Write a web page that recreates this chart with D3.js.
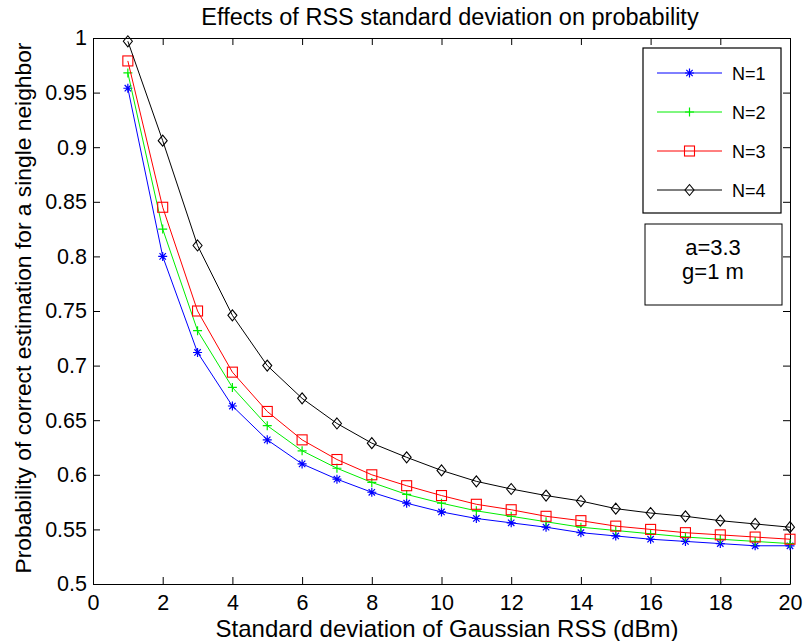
<!DOCTYPE html>
<html>
<head>
<meta charset="utf-8">
<script src="https://cdn.jsdelivr.net/npm/d3@7"></script>
<style>
  body { margin: 0; background: #fff; }
  text { font-family: "Liberation Sans", Arial, sans-serif; fill: #000; }
  .axis path, .axis line { stroke: #000; stroke-width: 1; }
</style>
</head>
<body>
<div id="chart"></div>
<script>
// data
const sigma = [1, 2, 3, 4, 5, 6, 7, 8, 9, 10, 11, 12, 13, 14, 15, 16, 17, 18, 19, 20];
const probN1 = [0.954, 0.800, 0.712, 0.663, 0.632, 0.610, 0.596, 0.584, 0.574, 0.566,
  0.560, 0.556, 0.552, 0.547, 0.544, 0.541, 0.539, 0.537, 0.535, 0.535];
const probN2 = [0.968, 0.825, 0.732, 0.680, 0.645, 0.622, 0.606, 0.593, 0.582, 0.574,
  0.567, 0.562, 0.557, 0.552, 0.549, 0.546, 0.543, 0.541, 0.539, 0.537];
const probN3 = [0.979, 0.845, 0.750, 0.694, 0.658, 0.632, 0.614, 0.600, 0.590, 0.581,
  0.573, 0.568, 0.562, 0.558, 0.553, 0.550, 0.547, 0.545, 0.543, 0.541];
const probN4 = [0.997, 0.906, 0.810, 0.746, 0.700, 0.670, 0.647, 0.629, 0.616, 0.604,
  0.594, 0.587, 0.581, 0.576, 0.569, 0.565, 0.562, 0.558, 0.555, 0.552];
const seriesNames = ["N=1", "N=2", "N=3", "N=4"];
const xTicks = [0, 2, 4, 6, 8, 10, 12, 14, 16, 18, 20];
const yTicks = [0.5, 0.55, 0.6, 0.65, 0.7, 0.75, 0.8, 0.85, 0.9, 0.95, 1];
const yTickLabels = ["0.5", "0.55", "0.6", "0.65", "0.7", "0.75", "0.8", "0.85", "0.9", "0.95", "1"];
const noteLines = ["a=3.3", "g=1 m"];

var margin = { top: 38, right: 13, bottom: 57, left: 93 },
  fullW = 803,
  fullH = 641,
  width = fullW - margin.left - margin.right,
  height = fullH - margin.top - margin.bottom;

var styles = [
  { color: "#0000ff", marker: "star" },
  { color: "#00ee00", marker: "plus" },
  { color: "#ff0000", marker: "square" },
  { color: "#000000", marker: "diamond" }
];
var allSeries = [probN1, probN2, probN3, probN4];

var svg = d3.select("#chart")
  .append("svg")
  .attr("width", fullW)
  .attr("height", fullH);

var g = svg.append("g")
  .attr("transform", `translate(${margin.left},${margin.top})`);

var x = d3.scaleLinear().domain([0, 20]).range([0, width]);
var y = d3.scaleLinear().domain([0.5, 1]).range([height, 0]);

// axes, ticks inward on all four sides
g.append("g")
  .attr("class", "axis")
  .attr("transform", `translate(0,${height})`)
  .call(d3.axisBottom(x).tickValues(xTicks).tickSize(-7).tickSizeOuter(0).tickPadding(11))
  .selectAll("text").attr("font-size", 21.5);

g.append("g")
  .attr("class", "axis")
  .call(d3.axisLeft(y).tickValues(yTicks).tickFormat((d, i) => yTickLabels[i])
    .tickSize(-7).tickSizeOuter(0).tickPadding(6))
  .selectAll("text").attr("font-size", 21.5);

g.append("g")
  .attr("class", "axis")
  .call(d3.axisTop(x).tickValues(xTicks).tickFormat("").tickSize(-7).tickSizeOuter(0));

g.append("g")
  .attr("class", "axis")
  .attr("transform", `translate(${width},0)`)
  .call(d3.axisRight(y).tickValues(yTicks).tickFormat("").tickSize(-7).tickSizeOuter(0));

svg.selectAll(".axis").attr("font-family", null);

function drawMarker(sel, type, color) {
  if (type === "star") {
    sel.append("path")
      .attr("d", "M-4.5,0H4.5M0,-4.5V4.5M-3.2,-3.2L3.2,3.2M-3.2,3.2L3.2,-3.2")
      .attr("stroke", color).attr("stroke-width", 1.2).attr("fill", "none");
  } else if (type === "plus") {
    sel.append("path")
      .attr("d", "M-4.5,0H4.5M0,-4.5V4.5")
      .attr("stroke", color).attr("stroke-width", 1.2).attr("fill", "none");
  } else if (type === "square") {
    sel.append("rect")
      .attr("x", -5).attr("y", -5).attr("width", 10).attr("height", 10)
      .attr("stroke", color).attr("stroke-width", 1.1).attr("fill", "none");
  } else {
    sel.append("path")
      .attr("d", "M0,-5.5L4.5,0L0,5.5L-4.5,0Z")
      .attr("stroke", color).attr("stroke-width", 1.1).attr("fill", "none");
  }
}

var line = d3.line()
  .x(d => x(d[0]))
  .y(d => y(d[1]));

allSeries.forEach(function(vals, k) {
  var pts = sigma.map((s, i) => [s, vals[i]]);
  g.append("path")
    .datum(pts)
    .attr("fill", "none")
    .attr("stroke", styles[k].color)
    .attr("stroke-width", 1)
    .attr("d", line);

  g.selectAll(".m" + k)
    .data(pts)
    .enter()
    .append("g")
    .attr("class", "m" + k)
    .attr("transform", d => `translate(${x(d[0])},${y(d[1])})`)
    .each(function() { drawMarker(d3.select(this), styles[k].marker, styles[k].color); });
});

// title and axis labels
svg.append("text")
  .attr("x", 450)
  .attr("y", 25)
  .attr("text-anchor", "middle")
  .attr("font-size", 23.5)
  .text("Effects of RSS standard deviation on probability");

svg.append("text")
  .attr("x", 447)
  .attr("y", 637)
  .attr("text-anchor", "middle")
  .attr("font-size", 24)
  .text("Standard deviation of Gaussian RSS (dBm)");

svg.append("text")
  .attr("transform", "translate(31,308) rotate(-90)")
  .attr("text-anchor", "middle")
  .attr("font-size", 22.8)
  .text("Probability of correct estimation for a single neighbor");

// legend
var legend = svg.append("g");
legend.append("rect")
  .attr("x", 643).attr("y", 48)
  .attr("width", 138).attr("height", 165)
  .attr("fill", "#fff").attr("stroke", "#000").attr("stroke-width", 1.2);

var items = legend.selectAll(".item")
  .data(seriesNames)
  .enter()
  .append("g")
  .attr("class", "item")
  .attr("transform", (d, i) => `translate(0,${73 + i * 39})`);

items.append("line")
  .attr("x1", 657).attr("x2", 722)
  .attr("stroke", (d, i) => styles[i].color)
  .attr("stroke-width", 1);

items.each(function(d, i) {
  var m = d3.select(this).append("g").attr("transform", "translate(689.5,0)");
  drawMarker(m, styles[i].marker, styles[i].color);
});

items.append("text")
  .attr("x", 732)
  .attr("y", 6.5)
  .attr("font-size", 18)
  .text(d => d);

// parameter box
svg.append("rect")
  .attr("x", 645).attr("y", 224)
  .attr("width", 137).attr("height", 81)
  .attr("fill", "#fff").attr("stroke", "#000").attr("stroke-width", 1);

svg.selectAll(".note")
  .data(noteLines)
  .enter()
  .append("text")
  .attr("class", "note")
  .attr("x", 713)
  .attr("y", (d, i) => 255 + i * 24)
  .attr("text-anchor", "middle")
  .attr("font-size", 22)
  .text(d => d);
</script>
</body>
</html>
